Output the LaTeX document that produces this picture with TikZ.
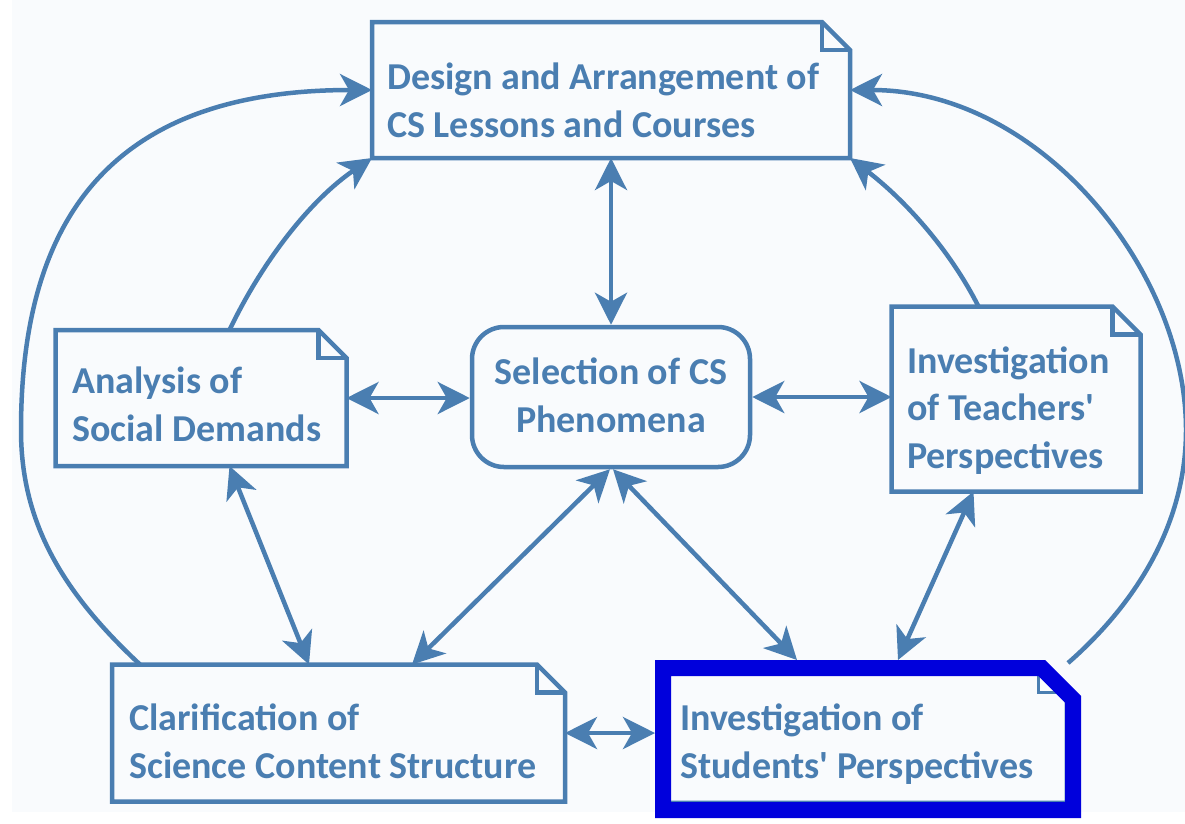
\documentclass[tikz,border=0pt]{standalone}
\usepackage{fontspec}
\setmainfont{Carlito}
\usetikzlibrary{arrows.meta}
\definecolor{linec}{HTML}{4A7EB1}
\definecolor{bgc}{HTML}{F9FBFD}
\definecolor{hilite}{HTML}{0000DC}

\tikzset{
  shell/.style={draw=none, inner sep=0pt, outer sep=0pt},
  noteline/.style={draw=linec, line width=4.5pt, fill=bgc, line join=miter},
  tipshape/.tip={Stealth[length=32pt,width=32pt,inset=9pt]},
  link/.style={draw=linec, line width=4.5pt, tipshape-tipshape},
  oneway/.style={draw=linec, line width=4.5pt, -tipshape},
  txt/.style={font=\fontsize{38}{47.5}\selectfont\bfseries, text=linec, inner sep=0pt, align=left},
}

% note shape with a folded top-right corner, drawn round an empty node
\newcommand\drawnote[2][]{%
  \draw[noteline,#1] (#2.north west) -- ([xshift=-28pt]#2.north east)
    -- ([yshift=-28pt]#2.north east) -- (#2.south east) -- (#2.south west) -- cycle;
  \draw[noteline,#1,fill=none] ([xshift=-28pt]#2.north east) |- ([yshift=-28pt]#2.north east);
}

\begin{document}
\begin{tikzpicture}[x=1pt,y=-1pt]
\useasboundingbox (0,0) rectangle (1185,823);
\fill[white] (0,0) rectangle (1185,823);
\fill[bgc] (12,0) rectangle (1185,812);

% boxes
\node[shell, minimum width=478pt, minimum height=136pt] (design) at (611,90) {};
\node[shell, minimum width=291pt, minimum height=136pt] (analysis) at (201,398) {};
\node[draw=linec, line width=4.5pt, fill=bgc, rounded corners=32pt, inner sep=0pt,
      minimum width=278pt, minimum height=140pt] (select) at (611,397) {};
\node[shell, minimum width=249pt, minimum height=185pt] (teachers) at (1016,399) {};
\node[shell, minimum width=453pt, minimum height=137pt] (clar) at (338.5,733) {};
\node[shell, minimum width=426pt, minimum height=158pt] (students) at (868,739) {};
\node[shell, minimum width=398pt, minimum height=138pt] (studnote) at (867,733) {};

\drawnote{design}
\drawnote{analysis}
\drawnote{teachers}
\drawnote{clar}
\drawnote[line width=3pt]{studnote}

% highlight frame
\draw[hilite, line width=16pt, line join=miter]
  ([shift={(8pt,-8pt)}]students.north west) -- ([shift={(-39.3pt,-8pt)}]students.north east)
  -- ([shift={(-8pt,-39.3pt)}]students.north east) -- ([shift={(-8pt,8pt)}]students.south east)
  -- ([shift={(8pt,8pt)}]students.south west) -- cycle;

% labels (anchored on the baseline of the last line)
\node[txt, anchor=base west] (design-t) at (387,137) {Design and Arrangement of\\CS Lessons and Courses};
\node[txt, anchor=base west] (analysis-t) at (72,441) {Analysis of\\Social Demands};
\node[txt, anchor=base, align=center] (select-t) at (611,432) {Selection of CS\\Phenomena};
\node[txt, anchor=base west] (teachers-t) at (907,468) {Investigation\\of Teachers\textquotesingle\\Perspectives};
\node[txt, anchor=base west] (clar-t) at (129,778) {Clarification of\\Science Content Structure};
\node[txt, anchor=base west] (students-t) at (680,778) {Investigation of\\Students\textquotesingle{} Perspectives};

% two-way links
\draw[link] (design.south) -- (select.north);
\draw[link] (analysis.east) -- (analysis.east -| select.west);
\draw[link] (select.east) -- (select.east -| teachers.west);
\draw[link] (clar.east) -- (clar.east -| students.west);
\draw[link] ([xshift=174pt]analysis.south west) -- ([xshift=197pt]clar.north west);
\draw[link] ([xshift=-1pt]select.south) -- ([xshift=300pt]clar.north west);
\draw[link] ([xshift=2pt]select.south) -- ([xshift=142pt]students.north west);
\draw[link] ([xshift=82pt]teachers.south west) -- ([xshift=243pt]students.north west);

% one-way links into the design box
\draw[oneway] ([xshift=174pt]analysis.north west) .. controls (262,262) and (310,200) .. (design.south west);
\draw[oneway] ([xshift=87pt]teachers.north west) .. controls (950,250) and (905,200) .. (design.south east);
\draw[oneway] ([xshift=28pt]clar.north west) .. controls (60,590) and (21,520) .. (21,430)
  .. controls (21,220) and (110,90) .. (design.west);
\draw[oneway] ([shift={(-13pt,-3pt)}]students.north east) .. controls (1140,600) and (1186,520) .. (1186,430)
  .. controls (1186,270) and (1040,90) .. (design.east);
\end{tikzpicture}
\end{document}
